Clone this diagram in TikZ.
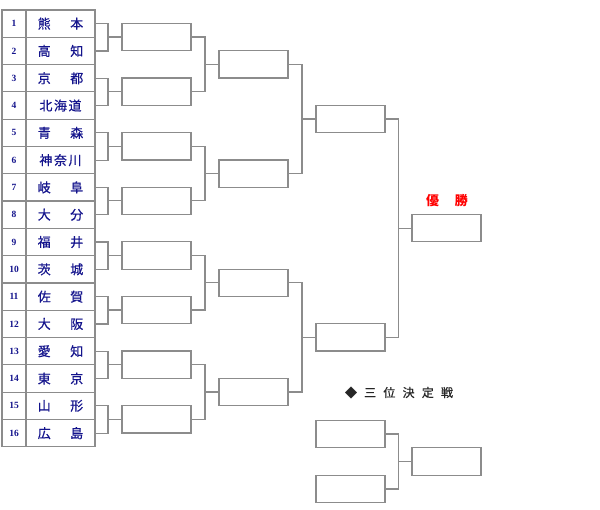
\documentclass[tikz,border=0pt]{standalone}
\usepackage{fontspec}
\setmainfont{Liberation Serif}
\newfontfamily\cjk{Noto Sans CJK JP}
\newfontfamily\cjkm[FakeBold=0.6]{Noto Sans CJK JP}
\definecolor{navyc}{HTML}{14148C}
\definecolor{linec}{HTML}{8C8C8C}
\definecolor{redc}{HTML}{FF0000}
\tikzset{
  cell/.style={draw=linec, line width=1.2pt, anchor=north west, minimum height=27.3pt, inner sep=0pt, outer sep=0pt, text=navyc},
  numcell/.style={cell, minimum width=24pt, font=\fontsize{9.5}{10}\selectfont\bfseries},
  namecell/.style={cell, minimum width=69pt, font=\cjkm\fontsize{13}{14}\selectfont},
  slot/.style={draw=linec, line width=1.2pt, minimum width=69pt, minimum height=27.3pt, inner sep=0pt, outer sep=0pt},
  conn/.style={draw=linec, line width=1.2pt}
}
\begin{document}
\begin{tikzpicture}[x=1pt,y=-1pt]
\useasboundingbox (0,0) rectangle (600,510);
% team table
\foreach \i/\nm in {1/{熊\hspace{1.5em}本},2/{高\hspace{1.5em}知},3/{京\hspace{1.5em}都},4/{北\hspace{0.12em}海\hspace{0.12em}道},
  5/{青\hspace{1.5em}森},6/{神\hspace{0.12em}奈\hspace{0.12em}川},7/{岐\hspace{1.5em}阜},8/{大\hspace{1.5em}分},
  9/{福\hspace{1.5em}井},10/{茨\hspace{1.5em}城},11/{佐\hspace{1.5em}賀},12/{大\hspace{1.5em}阪},
  13/{愛\hspace{1.5em}知},14/{東\hspace{1.5em}京},15/{山\hspace{1.5em}形},16/{広\hspace{1.5em}島}}{
  \node[numcell] (n\i) at (2, {10+(\i-1)*27.3}) {\i};
  \node[namecell] (t\i) at (26, {10+(\i-1)*27.3}) {\nm};
}
% round 1
\foreach \k in {1,...,8}{
  \node[slot] (a\k) at (156.5, {37.1+(\k-1)*54.6}) {};
}
\foreach \k in {1,...,4}{
  \node[slot] (b\k) at (253.5, {64.4+(\k-1)*109.2}) {};
}
\node[slot] (c1) at (350.5, 119) {};
\node[slot] (c2) at (350.5, 337.4) {};
\node[slot] (w) at (446.5, 228.2) {};
% third place
\node[slot] (d1) at (350.5, 434) {};
\node[slot] (d2) at (350.5, 489) {};
\node[slot] (d3) at (446.5, 461.5) {};
% connectors teams -> round 1
\foreach \k in {1,...,8}{
  \pgfmathtruncatemacro{\ta}{2*\k-1}
  \pgfmathtruncatemacro{\tb}{2*\k}
  \draw[conn] (t\ta.east) -- ++(13,0) |- (a\k.west);
  \draw[conn] (t\tb.east) -- ++(13,0) |- (a\k.west);
}
\foreach \k in {1,...,4}{
  \pgfmathtruncatemacro{\ta}{2*\k-1}
  \pgfmathtruncatemacro{\tb}{2*\k}
  \draw[conn] (a\ta.east) -- ++(14,0) |- (b\k.west);
  \draw[conn] (a\tb.east) -- ++(14,0) |- (b\k.west);
}
\draw[conn] (b1.east) -- ++(14,0) |- (c1.west);
\draw[conn] (b2.east) -- ++(14,0) |- (c1.west);
\draw[conn] (b3.east) -- ++(14,0) |- (c2.west);
\draw[conn] (b4.east) -- ++(14,0) |- (c2.west);
\draw[conn] (c1.east) -- ++(13.5,0) |- (w.west);
\draw[conn] (c2.east) -- ++(13.5,0) |- (w.west);
\draw[conn] (d1.east) -- ++(13.5,0) |- (d3.west);
\draw[conn] (d2.east) -- ++(13.5,0) |- (d3.west);
% labels
\node[text=redc, font=\cjk\fontsize{13}{14}\selectfont\bfseries] (champ) at (447, 200.5) {優\hspace{1.2em}勝};
\node[text=black!85, font=\cjkm\fontsize{12}{13}\selectfont] (third) at (399, 392.5) {◆\hspace{0.6em}三\hspace{0.6em}位\hspace{0.6em}決\hspace{0.6em}定\hspace{0.6em}戦};
\end{tikzpicture}
\end{document}
